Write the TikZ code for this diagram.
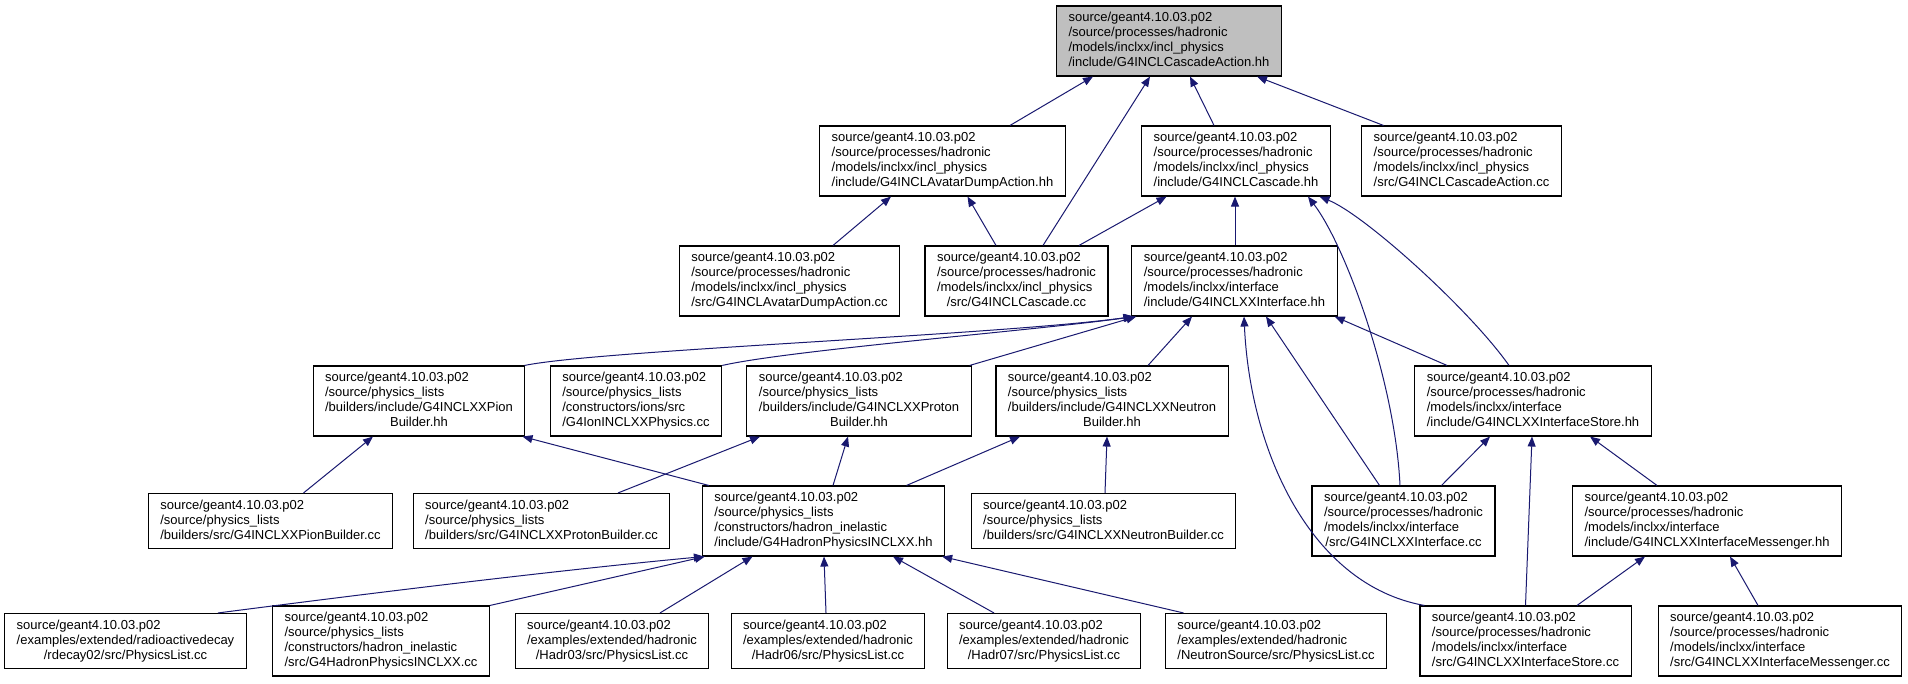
\documentclass[tikz,border=0pt]{standalone}
\usepackage{fontspec}
\setmainfont{Liberation Sans}
\usetikzlibrary{arrows.meta}
\definecolor{edgecol}{HTML}{191970}
\definecolor{rootfill}{HTML}{BFBFBF}
\newcommand\flabel[2]{\begin{tabular}{@{}l@{}}#1\\\multicolumn{1}{@{}c@{}}{#2}\end{tabular}}
\begin{document}
\begin{tikzpicture}[x=1pt,y=-1pt,
  box/.style={draw=black, line width=1.1pt, rectangle, inner xsep=12pt, inner ysep=0pt,
    font=\fontsize{13}{15}\selectfont, fill=white},
  four/.style={box, minimum height=70pt},
  three/.style={box, minimum height=55pt},
  edge/.style={draw=edgecol, line width=1pt, -{Triangle[length=10pt,width=8pt]}}]
\fill[white] (0,0) rectangle (1908,683);
\useasboundingbox (0,0) rectangle (1908,683);

% row 1
\node[four,fill=rootfill] (root) at (1169,41) {\flabel{source/geant4.10.03.p02\\/source/processes/hadronic\\/models/inclxx/incl\_physics}{/include/G4INCLCascadeAction.hh}};
% row 2
\node[four] (avh) at (942.5,161) {\flabel{source/geant4.10.03.p02\\/source/processes/hadronic\\/models/inclxx/incl\_physics}{/include/G4INCLAvatarDumpAction.hh}};
\node[four] (cah) at (1236,161) {\flabel{source/geant4.10.03.p02\\/source/processes/hadronic\\/models/inclxx/incl\_physics}{/include/G4INCLCascade.hh}};
\node[four] (cac) at (1461.5,161) {\flabel{source/geant4.10.03.p02\\/source/processes/hadronic\\/models/inclxx/incl\_physics}{/src/G4INCLCascadeAction.cc}};
% row 3
\node[four] (avc) at (789.5,281) {\flabel{source/geant4.10.03.p02\\/source/processes/hadronic\\/models/inclxx/incl\_physics}{/src/G4INCLAvatarDumpAction.cc}};
\node[four] (ccc) at (1016.5,281) {\flabel{source/geant4.10.03.p02\\/source/processes/hadronic\\/models/inclxx/incl\_physics}{/src/G4INCLCascade.cc}};
\node[four] (xih) at (1234.5,281) {\flabel{source/geant4.10.03.p02\\/source/processes/hadronic\\/models/inclxx/interface}{/include/G4INCLXXInterface.hh}};
% row 4
\node[four] (pbh) at (419,401) {\flabel{source/geant4.10.03.p02\\/source/physics\_lists\\/builders/include/G4INCLXXPion}{Builder.hh}};
\node[four] (ion) at (636,401) {\flabel{source/geant4.10.03.p02\\/source/physics\_lists\\/constructors/ions/src}{/G4IonINCLXXPhysics.cc}};
\node[four] (prh) at (859,401) {\flabel{source/geant4.10.03.p02\\/source/physics\_lists\\/builders/include/G4INCLXXProton}{Builder.hh}};
\node[four] (nbh) at (1112,401) {\flabel{source/geant4.10.03.p02\\/source/physics\_lists\\/builders/include/G4INCLXXNeutron}{Builder.hh}};
\node[four] (ish) at (1533,401) {\flabel{source/geant4.10.03.p02\\/source/processes/hadronic\\/models/inclxx/interface}{/include/G4INCLXXInterfaceStore.hh}};
% row 5
\node[three] (pbc) at (270.5,521) {\flabel{source/geant4.10.03.p02\\/source/physics\_lists}{/builders/src/G4INCLXXPionBuilder.cc}};
\node[three] (prc) at (541.5,521) {\flabel{source/geant4.10.03.p02\\/source/physics\_lists}{/builders/src/G4INCLXXProtonBuilder.cc}};
\node[four] (hph) at (823.5,521) {\flabel{source/geant4.10.03.p02\\/source/physics\_lists\\/constructors/hadron\_inelastic}{/include/G4HadronPhysicsINCLXX.hh}};
\node[three] (nbc) at (1103.5,521) {\flabel{source/geant4.10.03.p02\\/source/physics\_lists}{/builders/src/G4INCLXXNeutronBuilder.cc}};
\node[four] (xic) at (1403.5,521) {\flabel{source/geant4.10.03.p02\\/source/processes/hadronic\\/models/inclxx/interface}{/src/G4INCLXXInterface.cc}};
\node[four] (imh) at (1707,521) {\flabel{source/geant4.10.03.p02\\/source/processes/hadronic\\/models/inclxx/interface}{/include/G4INCLXXInterfaceMessenger.hh}};
% row 6
\node[three] (rd) at (125.5,641) {\flabel{source/geant4.10.03.p02\\/examples/extended/radioactivedecay}{/rdecay02/src/PhysicsList.cc}};
\node[four] (hpc) at (381,641) {\flabel{source/geant4.10.03.p02\\/source/physics\_lists\\/constructors/hadron\_inelastic}{/src/G4HadronPhysicsINCLXX.cc}};
\node[three] (h03) at (612,641) {\flabel{source/geant4.10.03.p02\\/examples/extended/hadronic}{/Hadr03/src/PhysicsList.cc}};
\node[three] (h06) at (828,641) {\flabel{source/geant4.10.03.p02\\/examples/extended/hadronic}{/Hadr06/src/PhysicsList.cc}};
\node[three] (h07) at (1044,641) {\flabel{source/geant4.10.03.p02\\/examples/extended/hadronic}{/Hadr07/src/PhysicsList.cc}};
\node[three] (nsrc) at (1276,641) {\flabel{source/geant4.10.03.p02\\/examples/extended/hadronic}{/NeutronSource/src/PhysicsList.cc}};
\node[four] (isc) at (1525.5,641) {\flabel{source/geant4.10.03.p02\\/source/processes/hadronic\\/models/inclxx/interface}{/src/G4INCLXXInterfaceStore.cc}};
\node[four] (imc) at (1780,641) {\flabel{source/geant4.10.03.p02\\/source/processes/hadronic\\/models/inclxx/interface}{/src/G4INCLXXInterfaceMessenger.cc}};

% edges (child -> parent, arrow at parent)
\draw[edge] ([xshift=67.5pt]avh.north) -- ([xshift=-76pt]root.south);
\draw[edge] ([xshift=26.5pt]ccc.north) -- ([xshift=-19pt]root.south);
\draw[edge] ([xshift=-22pt]cah.north) -- ([xshift=21pt]root.south);
\draw[edge] ([xshift=-78pt]cac.north) -- ([xshift=88pt]root.south);

\draw[edge] ([xshift=43.5pt]avc.north) -- ([xshift=-51.5pt]avh.south);
\draw[edge] ([xshift=-20.5pt]ccc.north) -- ([xshift=25pt]avh.south);
\draw[edge] ([xshift=62.5pt]ccc.north) -- ([xshift=-69.5pt]cah.south);
\draw[edge] ([xshift=0.5pt]xih.north) -- ([xshift=-1pt]cah.south);
\draw[edge] ([xshift=-3.5pt]xic.north) .. controls (1395,380) and (1345,245) .. ([xshift=72pt]cah.south);
\draw[edge] ([xshift=-24pt]ish.north) .. controls (1470,310) and (1365,215) .. ([xshift=83.5pt]cah.south);

\draw[edge] ([xshift=-1pt]pbh.north east) .. controls (600,350) and (1000,335) .. ([xshift=2pt]xih.south west);
\draw[edge] (ion.north east) .. controls (790,350) and (1040,330) .. ([xshift=3pt]xih.south west);
\draw[edge] ([xshift=-2pt]prh.north east) -- ([xshift=5pt]xih.south west);
\draw[edge] ([xshift=36pt]nbh.north) -- ([xshift=-42.5pt]xih.south);
\draw[edge] ([xshift=-24pt]xic.north) -- ([xshift=31.5pt]xih.south);
\draw[edge] ([xshift=5pt]isc.north west) .. controls (1310,585) and (1250,450) .. ([xshift=9.5pt]xih.south);
\draw[edge] ([xshift=-86pt]ish.north) -- ([xshift=-3pt]xih.south east);

\draw[edge] ([xshift=33pt]pbc.north) -- ([xshift=-46pt]pbh.south);
\draw[edge] ([xshift=7pt]hph.north west) -- ([xshift=-3pt]pbh.south east);
\draw[edge] ([xshift=76.5pt]prc.north) -- ([xshift=-99pt]prh.south);
\draw[edge] ([xshift=9.5pt]hph.north) -- ([xshift=-11pt]prh.south);
\draw[edge] ([xshift=83pt]hph.north) -- ([xshift=-92pt]nbh.south);
\draw[edge] ([xshift=1.5pt]nbc.north) -- ([xshift=-5pt]nbh.south);

\draw[edge] ([xshift=38pt]xic.north) -- ([xshift=-43pt]ish.south);
\draw[edge] (isc.north) -- ([xshift=-1pt]ish.south);
\draw[edge] ([xshift=-50pt]imh.north) -- ([xshift=57pt]ish.south);
\draw[edge] ([xshift=51.5pt]isc.north) -- ([xshift=-62pt]imh.south);
\draw[edge] ([xshift=-22pt]imc.north) -- ([xshift=23pt]imh.south);

\draw[edge] ([xshift=92.5pt]rd.north) .. controls (380,592) and (560,570) .. ([xshift=2pt]hph.south west);
\draw[edge] (hpc.north east) -- ([xshift=3pt]hph.south west);
\draw[edge] ([xshift=48pt]h03.north) -- ([xshift=-71pt]hph.south);
\draw[edge] ([xshift=-2pt]h06.north) -- ([xshift=0.5pt]hph.south);
\draw[edge] ([xshift=-50pt]h07.north) -- ([xshift=69.5pt]hph.south);
\draw[edge] ([xshift=-92.5pt]nsrc.north) -- ([xshift=-3pt]hph.south east);
\end{tikzpicture}
\end{document}
